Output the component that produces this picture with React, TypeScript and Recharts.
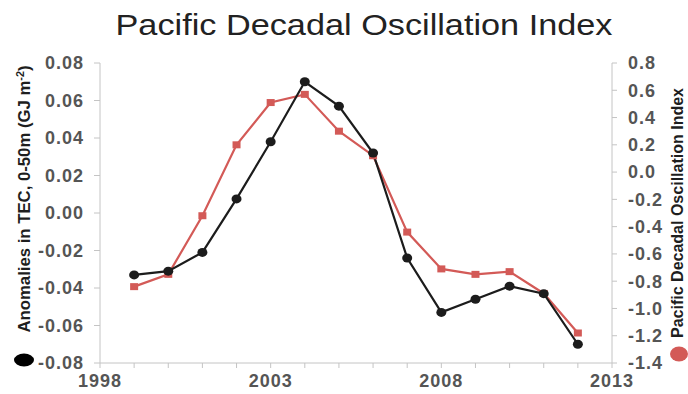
import React from 'react';
import { LineChart, Line, XAxis, YAxis } from 'recharts';

// Years of observation
const years = [1999, 2000, 2001, 2002, 2003, 2004, 2005, 2006, 2007, 2008, 2009, 2010, 2011, 2012];

// Upper-ocean (0-50 m) total energy content anomalies, GJ m^-2
const tecAnomaly = [-0.033, -0.031, -0.021, 0.0075, 0.038, 0.070, 0.057, 0.032, -0.024, -0.053, -0.046, -0.039, -0.043, -0.070];

// Pacific Decadal Oscillation index
const pdoIndex = [-0.84, -0.75, -0.32, 0.20, 0.51, 0.57, 0.30, 0.12, -0.44, -0.71, -0.75, -0.73, -0.89, -1.18];

const xTicks = [1998, 1999, 2000, 2001, 2002, 2003, 2004, 2005, 2006, 2007, 2008, 2009, 2010, 2011, 2012, 2013];
const leftTicks = [-0.08, -0.06, -0.04, -0.02, 0, 0.02, 0.04, 0.06, 0.08];
const rightTicks = [-1.4, -1.2, -1.0, -0.8, -0.6, -0.4, -0.2, 0, 0.2, 0.4, 0.6, 0.8];

const data = years.map((year, i) => ({ year, tec: tecAnomaly[i], pdo: pdoIndex[i] }));

const FONT = '"Liberation Sans", Arial, sans-serif';
const TICK_FILL = '#555555';
const AXIS_COLOR = '#c4c4c4';
const BLACK = '#1c1c1c';
const RED = '#d35a57';

const XTick = (props: any) => {
  const { x, y, payload } = props;
  if ((payload.value - 1998) % 5 !== 0) return <g />;
  return (
    <text x={x} y={y} dy="0.71em" textAnchor="middle" fill={TICK_FILL} fontFamily={FONT}
      fontSize={18} fontWeight="bold" letterSpacing={1}>
      {payload.value}
    </text>
  );
};

const LeftTick = (props: any) => {
  const { x, y, payload } = props;
  return (
    <text x={x} y={y} dy="0.355em" textAnchor="end" fill={TICK_FILL} fontFamily={FONT}
      fontSize={18} fontWeight="bold" letterSpacing={1}>
      {Number(payload.value).toFixed(2)}
    </text>
  );
};

const RightTick = (props: any) => {
  const { x, y, payload } = props;
  return (
    <text x={x} y={y} dy="0.355em" textAnchor="start" fill={TICK_FILL} fontFamily={FONT}
      fontSize={18} fontWeight="bold" letterSpacing={1}>
      {Number(payload.value).toFixed(1)}
    </text>
  );
};

const CircleDot = (props: any) => {
  const { cx, cy, index } = props;
  return <ellipse key={`c-${index}`} cx={cx} cy={cy} rx={5} ry={4.5} fill={BLACK} />;
};

const SquareDot = (props: any) => {
  const { cx, cy, index } = props;
  return <rect key={`s-${index}`} x={cx - 4} y={cy - 3.5} width={8} height={7} fill={RED} />;
};

export default function App() {
  return (
    <div style={{ position: 'absolute', left: 0, top: 0, width: 688, height: 394, background: '#ffffff' }}>
      <LineChart width={688} height={394} data={data} margin={{ top: 63, right: 0, bottom: 0, left: 0 }}>
        <XAxis
          dataKey="year"
          type="number"
          domain={[1998, 2013]}
          ticks={xTicks}
          interval={0}
          height={31}
          stroke={AXIS_COLOR}
          tickLine={{ stroke: AXIS_COLOR }}
          tickSize={5}
          tickMargin={6}
          tick={<XTick />}
        />
        <YAxis
          yAxisId="left"
          orientation="left"
          domain={[-0.08, 0.08]}
          ticks={leftTicks}
          interval={0}
          width={100}
          stroke={AXIS_COLOR}
          tickLine={{ stroke: AXIS_COLOR }}
          tickSize={6}
          tickMargin={10}
          tick={<LeftTick />}
        />
        <YAxis
          yAxisId="right"
          orientation="right"
          domain={[-1.4, 0.8]}
          ticks={rightTicks}
          interval={0}
          width={76}
          stroke={AXIS_COLOR}
          tickLine={{ stroke: AXIS_COLOR }}
          tickSize={5}
          tickMargin={11}
          tick={<RightTick />}
        />
        <Line
          yAxisId="right"
          dataKey="pdo"
          type="linear"
          stroke={RED}
          strokeWidth={2.2}
          dot={SquareDot}
          activeDot={false}
          isAnimationActive={false}
        />
        <Line
          yAxisId="left"
          dataKey="tec"
          type="linear"
          stroke={BLACK}
          strokeWidth={2.2}
          dot={CircleDot}
          activeDot={false}
          isAnimationActive={false}
        />
      </LineChart>
      <svg width={688} height={394} style={{ position: 'absolute', left: 0, top: 0, pointerEvents: 'none' }}>
        <text x={364} y={35} textAnchor="middle" fontFamily={FONT} fontSize={30} fill="#222222"
          textLength={497} lengthAdjust="spacingAndGlyphs">
          Pacific Decadal Oscillation Index
        </text>
        <text transform="translate(30, 199) rotate(-90)" textAnchor="middle" fontFamily={FONT}
          fontSize={17} fontWeight="bold" fill="#1e1e1e" textLength={267} lengthAdjust="spacingAndGlyphs">
          <tspan>Anomalies in TEC, 0-50m (GJ m</tspan>
          <tspan fontSize={11} dy={-6}>-2</tspan>
          <tspan dy={6}>)</tspan>
        </text>
        <ellipse cx={24} cy={360} rx={10} ry={6.5} fill="#000000" />
        <text transform="translate(683, 213) rotate(-90)" textAnchor="middle" fontFamily={FONT}
          fontSize={16} fontWeight="bold" fill="#1e1e1e" textLength={250} lengthAdjust="spacingAndGlyphs">
          Pacific Decadal Oscillation Index
        </text>
        <ellipse cx={679} cy={354} rx={9} ry={7.5} fill={RED} />
      </svg>
    </div>
  );
}
